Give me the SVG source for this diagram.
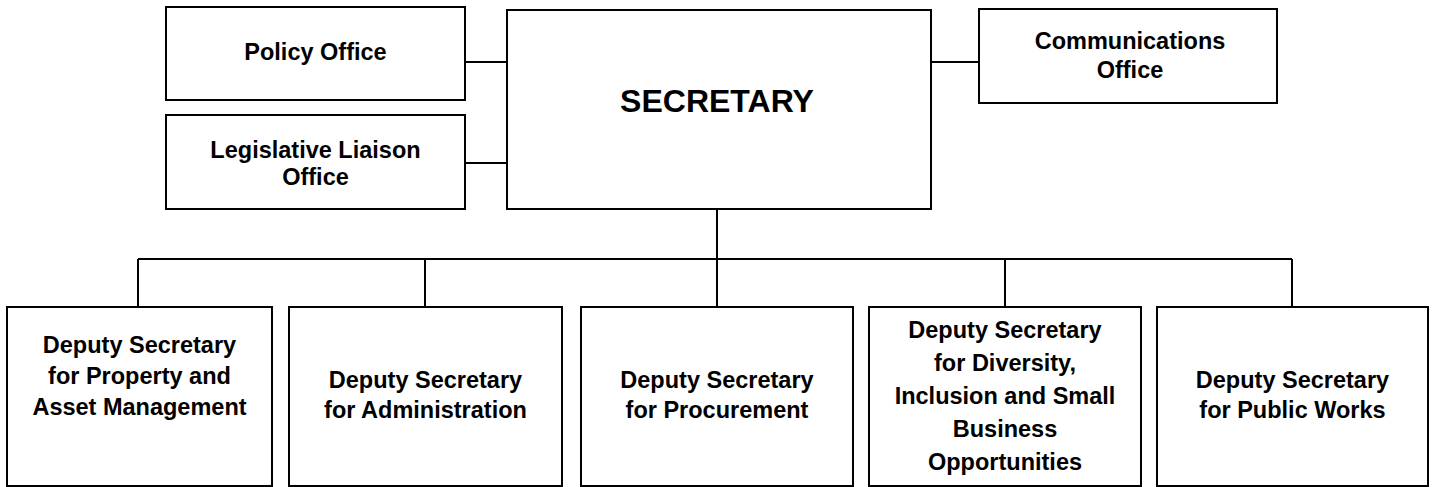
<svg xmlns="http://www.w3.org/2000/svg" width="1434" height="487" viewBox="0 0 1434 487">
<style>
.box{fill:#fff;stroke:#000;stroke-width:2}
.ln{fill:none;stroke:#000;stroke-width:2}
text{font-family:"Liberation Sans",Arial,sans-serif;font-weight:bold;font-size:23.5px;text-anchor:middle;fill:#000}
.big{font-size:32px}
</style>
<rect width="1434" height="487" fill="#fff"/>
<g id="connectors">
<path class="ln" d="M465 62H507M465 163H507M931 62H979M717 209V307M138 259H1292M138 259V307M425 259V307M1005 259V307M1292 259V307"/>
</g>
<g id="policy"><rect class="box" x="166" y="7" width="299" height="93"/><text x="315.5" y="60">Policy Office</text></g>
<g id="legislative"><rect class="box" x="166" y="115" width="299" height="94"/><text x="315.5" y="158">Legislative Liaison</text><text x="315.5" y="185">Office</text></g>
<g id="secretary"><rect class="box" x="507" y="10" width="424" height="199"/><text class="big" x="717" y="112">SECRETARY</text></g>
<g id="communications"><rect class="box" x="979" y="9" width="298" height="94"/><text x="1130" y="49">Communications</text><text x="1130" y="78">Office</text></g>
<g id="property"><rect class="box" x="7" y="307" width="265" height="179"/><text x="139.5" y="353">Deputy Secretary</text><text x="139.5" y="384">for Property and</text><text x="139.5" y="415">Asset Management</text></g>
<g id="administration"><rect class="box" x="289" y="307" width="273" height="179"/><text x="425.5" y="388">Deputy Secretary</text><text x="425.5" y="418">for Administration</text></g>
<g id="procurement"><rect class="box" x="581" y="307" width="272" height="179"/><text x="717" y="388">Deputy Secretary</text><text x="717" y="418">for Procurement</text></g>
<g id="diversity"><rect class="box" x="869" y="307" width="272" height="179"/><text x="1005" y="338">Deputy Secretary</text><text x="1005" y="371">for Diversity,</text><text x="1005" y="404">Inclusion and Small</text><text x="1005" y="437">Business</text><text x="1005" y="470">Opportunities</text></g>
<g id="publicworks"><rect class="box" x="1157" y="307" width="271" height="179"/><text x="1292.5" y="388">Deputy Secretary</text><text x="1292.5" y="418">for Public Works</text></g>
</svg>
